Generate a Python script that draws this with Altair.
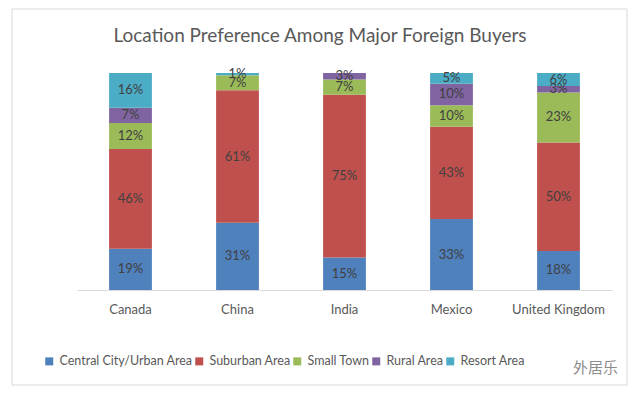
import altair as alt
import pandas as pd

countries = ["Canada", "China", "India", "Mexico", "United Kingdom"]
categories = ["Central City/Urban Area", "Suburban Area", "Small Town", "Rural Area", "Resort Area"]
colors = ["#4F81BD", "#C0504D", "#9BBB59", "#8064A2", "#4BACC6"]

central = [19, 31, 15, 33, 18]
suburban = [46, 61, 75, 43, 50]
small_town = [12, 7, 7, 10, 23]
rural = [7, 0, 3, 10, 3]
resort = [16, 1, 0, 5, 6]

title_text = "Location Preference Among Major Foreign Buyers"
watermark_text = "外居乐"

series = [central, suburban, small_town, rural, resort]
rows = []
for ci, (cat, vals) in enumerate(zip(categories, series)):
    for country, v in zip(countries, vals):
        rows.append({"country": country, "category": cat, "order": ci, "value": v,
                     "label": f"{v}%"})
df = pd.DataFrame(rows)

FONT = "Lato"

base = alt.Chart(df)

bars = base.mark_bar().encode(
    x=alt.X("country:N", sort=countries,
            scale=alt.Scale(paddingInner=0.6, paddingOuter=0.3),
            axis=alt.Axis(title=None, labelAngle=0, ticks=False, domainColor="#D9D9D9",
                          labelFont=FONT, labelFontSize=13, labelColor="#595959",
                          labelPadding=13)),
    y=alt.Y("value:Q", stack="normalize", scale=alt.Scale(domain=[0, 1]), axis=None),
    color=alt.Color("category:N", sort=categories,
                    scale=alt.Scale(domain=categories, range=colors),
                    legend=alt.Legend(title=None, orient="none", direction="horizontal",
                                      legendX=-34, legendY=282, symbolType="square",
                                      symbolSize=64, symbolStrokeWidth=0,
                                      labelFont=FONT, labelFontSize=12.5,
                                      labelColor="#595959",
                                      columnPadding=0, labelOffset=4)),
    order=alt.Order("order:Q"),
)

labels = base.transform_filter("datum.value > 0").transform_stack(
    stack="value", groupby=["country"], as_=["y0", "y1"],
    sort=[alt.SortField("order", "ascending")], offset="normalize"
).transform_calculate(mid="(datum.y0 + datum.y1) / 2").mark_text(
    font=FONT, fontSize=13, color="#404040", baseline="middle"
).encode(
    x=alt.X("country:N", sort=countries),
    y=alt.Y("mid:Q"),
    text="label:N",
)

frame = alt.Chart(pd.DataFrame({"k": [0]})).mark_rect(
    fill=None, stroke="#D9D9D9", strokeWidth=1
).encode(
    x=alt.value(-65), x2=alt.value(550), y=alt.value(-64), y2=alt.value(312)
)

title = alt.Chart(pd.DataFrame({"t": [title_text]})).mark_text(
    font=FONT, fontSize=19, color="#595959", align="center", baseline="middle"
).encode(x=alt.value(243), y=alt.value(-37), text="t:N")

watermark = alt.Chart(pd.DataFrame({"t": [watermark_text]})).mark_text(
    font="Noto Sans CJK SC", fontSize=15, color="#8C8C8C", align="left", baseline="middle"
).encode(x=alt.value(496), y=alt.value(295), text="t:N")

chart = alt.layer(frame, bars, labels, title, watermark).properties(
    width=535, height=217,
    autosize=alt.AutoSizeParams(type="none"),
    padding={"left": 69, "top": 65, "right": 20, "bottom": 100},
).configure_view(stroke=None)

chart.save("out.html", embed_options={"renderer": "svg", "actions": False})
